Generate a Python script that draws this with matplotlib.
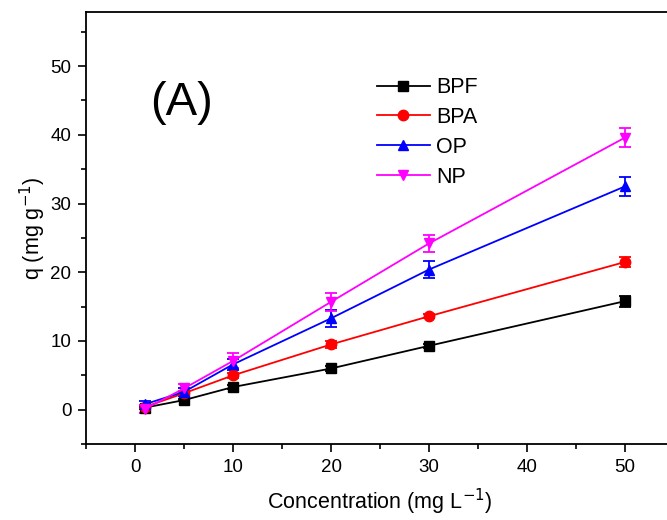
import matplotlib
matplotlib.use("Agg")
import matplotlib.pyplot as plt
from matplotlib.ticker import MultipleLocator

plt.rcParams['font.family'] = ['Liberation Sans', 'DejaVu Sans']

conc = [1, 5, 10, 20, 30, 50]

bpf = [0.3, 1.4, 3.3, 6.0, 9.3, 15.8]
bpf_err = [0.2, 0.2, 0.3, 0.3, 0.3, 0.8]
bpa = [0.4, 2.4, 5.0, 9.5, 13.6, 21.5]
bpa_err = [0.2, 0.3, 0.4, 0.5, 0.3, 0.7]
op = [0.8, 2.6, 6.6, 13.3, 20.4, 32.5]
op_err = [0.4, 0.6, 0.8, 1.2, 1.2, 1.4]
np_ = [0.1, 3.1, 7.1, 15.7, 24.2, 39.6]
np_err = [0.6, 0.7, 1.1, 1.3, 1.2, 1.4]

series = [
    ("BPF", bpf, bpf_err, "black", "s"),
    ("BPA", bpa, bpa_err, "red", "o"),
    ("OP", op, op_err, "blue", "^"),
    ("NP", np_, np_err, "magenta", "v"),
]

fig = plt.figure(figsize=(6.67, 5.2), dpi=100)
ax = fig.add_axes([0.129, 0.146, 0.8816, 0.83])

for name, y, e, c, m in series:
    ax.errorbar(conc, y, yerr=e, color=c, marker=m, markersize=7.5,
                linewidth=1.3, capsize=4, capthick=1.3, elinewidth=1.3, label=name)

ax.set_xlim(-5, 55)
ax.set_ylim(-5, 57.8)
ax.set_xticks([0, 10, 20, 30, 40, 50])
ax.set_yticks([0, 10, 20, 30, 40, 50])
ax.xaxis.set_minor_locator(MultipleLocator(5))
ax.yaxis.set_minor_locator(MultipleLocator(5))
ax.tick_params(which='major', direction='out', length=6, width=1.2, labelsize=13.5, pad=4.5,
               top=False, right=False)
ax.tick_params(which='minor', direction='out', length=3.5, width=1.2, top=False, right=False)
ax.spines['right'].set_visible(False)
for s in ['left', 'bottom', 'top']:
    ax.spines[s].set_linewidth(1.3)

ax.set_xlabel("Concentration (mg L$^{-1}$)", fontsize=15.5, labelpad=8)
ax.set_ylabel("q (mg g$^{-1}$)", fontsize=15.5, labelpad=2)

ax.text(1.5, 42.9, "(A)", fontsize=34, va='baseline')

handles, labels = ax.get_legend_handles_labels()
handles = [h[0] for h in handles]
ax.legend(handles, labels, loc='upper left', bbox_to_anchor=(24.7, 48.4),
          bbox_transform=ax.transData, frameon=False, borderpad=0, borderaxespad=0,
          fontsize=15.5, handlelength=2.45, labelspacing=0.41, handletextpad=0.28)

fig.savefig("out.png", dpi=100)
